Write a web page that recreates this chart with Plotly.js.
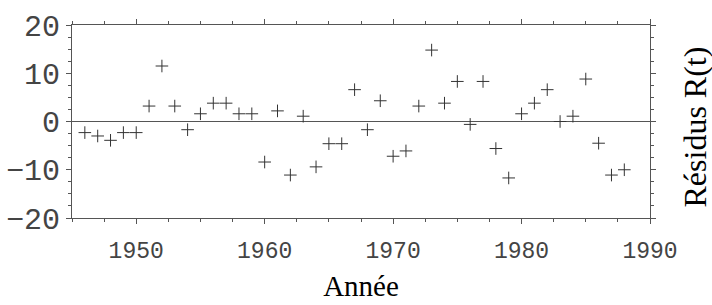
<!DOCTYPE html>
<html>
<head>
<meta charset="utf-8">
<script src="https://cdn.plot.ly/plotly-3.0.1.min.js"></script>
<style>html,body{margin:0;padding:0;background:#fff;}#chart{width:712px;height:305px;}</style>
</head>
<body>
<div id="chart"></div>
<script>
const years = [1946,1947,1948,1949,1950,1951,1952,1953,1954,1955,1956,1957,1958,1959,1960,1961,1962,1963,1964,1965,1966,1967,1968,1969,1970,1971,1972,1973,1974,1975,1976,1977,1978,1979,1980,1981,1982,1983,1984,1985,1986,1987,1988];
const residus = [-2.3,-3.0,-3.9,-2.3,-2.3,3.2,11.5,3.2,-1.7,1.6,3.8,3.8,1.6,1.6,-8.4,2.2,-11.1,1.1,-9.4,-4.6,-4.6,6.6,-1.7,4.3,-7.2,-6.1,3.2,14.8,3.8,8.3,-0.6,8.3,-5.6,-11.7,1.6,3.8,6.6,0.0,1.1,8.8,-4.5,-11.1,-10.0];
const xTitle = "Année";
const yTitle = "Résidus R(t)";

const axisColor = '#555';
const trace = {
  x: years, y: residus, type: 'scatter', mode: 'markers',
  marker: {symbol: 'cross-thin', size: 9, color: '#333', line: {color: '#333', width: 1}},
  hoverinfo: 'skip'
};
const layout = {
  width: 712, height: 305,
  margin: {l: 72, r: 62, t: 25, b: 87},
  paper_bgcolor: '#fff', plot_bgcolor: '#fff',
  showlegend: false,
  xaxis: {
    range: [1945, 1990], dtick: 10, tick0: 1950,
    showgrid: false, zeroline: false,
    showline: true, linecolor: axisColor, linewidth: 1, mirror: 'allticks',
    ticks: 'outside', ticklen: 5, tickcolor: axisColor, tickwidth: 1,
    minor: {dtick: 2.5, ticks: 'outside', ticklen: 3, tickcolor: axisColor, showgrid: false},
    tickfont: {family: 'Liberation Mono, Courier New, monospace', size: 23, color: '#444'},
    ticklabelstandoff: 6,
    title: {text: xTitle, font: {family: 'Liberation Serif, Times New Roman, serif', size: 29, color: '#000'}, standoff: 12}
  },
  yaxis: {
    range: [-20, 20], dtick: 10, tick0: 0,
    showgrid: false, zeroline: true, zerolinecolor: axisColor, zerolinewidth: 1,
    showline: true, linecolor: axisColor, linewidth: 1, mirror: 'allticks',
    ticks: 'outside', ticklen: 5, tickcolor: axisColor, tickwidth: 1,
    minor: {dtick: 2.5, ticks: 'outside', ticklen: 3, tickcolor: axisColor, showgrid: false},
    tickfont: {family: 'Liberation Mono, Courier New, monospace', size: 30, color: '#444'},
    ticklabelstandoff: 0
  },
  annotations: [{
    text: yTitle, xref: 'paper', yref: 'paper', x: 1, y: 0.5,
    xanchor: 'center', yanchor: 'middle', xshift: 44, yshift: -6, textangle: -90, showarrow: false,
    font: {family: 'Liberation Serif, Times New Roman, serif', size: 32, color: '#000'}
  }]
};
Plotly.newPlot('chart', [trace], layout, {displayModeBar: false, staticPlot: true});
</script>
</body>
</html>
